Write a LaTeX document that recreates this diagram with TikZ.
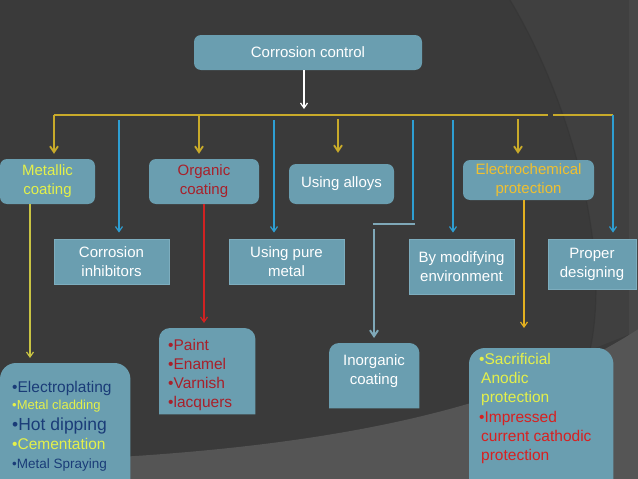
\documentclass[tikz,border=0pt]{standalone}
\usepackage{fontspec}
\setmainfont{Liberation Sans}
\usetikzlibrary{arrows.meta,calc}
\pgfdeclarelayer{back}
\pgfsetlayers{back,main}
\definecolor{bgc}{HTML}{3A3A3A}
\definecolor{bglight}{HTML}{555555}
\definecolor{bgmid}{HTML}{404040}
\definecolor{bgedge}{HTML}{474747}
\definecolor{boxc}{HTML}{6A9EB0}
\definecolor{boxedge}{HTML}{7DADBE}
\definecolor{ygold}{HTML}{C8AA2A}
\definecolor{ylime}{HTML}{C9C443}
\definecolor{yorange}{HTML}{E3B020}
\definecolor{blueline}{HTML}{2E9ED2}
\definecolor{grayblue}{HTML}{7FA8B8}
\definecolor{redline}{HTML}{D02222}
\definecolor{txtyellow}{HTML}{E4F04A}
\definecolor{txtgold}{HTML}{F0C030}
\definecolor{txtred}{HTML}{A8202A}
\definecolor{txtred2}{HTML}{D82020}
\definecolor{navy}{HTML}{1A3C78}
\begin{document}
\begin{tikzpicture}[x=1pt,y=-1pt,
  box/.style={fill=boxc, text=white, font=\fontsize{15}{19}\selectfont, align=center, inner sep=0pt},
  rbox/.style={box, rounded corners=7pt},
  sbox/.style={box, draw=boxedge, line width=0.8pt},
  frame/.style={inner sep=0pt},
  ln/.style={inner sep=0pt, anchor=base west, font=\fontsize{15.5}{19}\selectfont},
  ybar/.style={draw=ygold, line width=2pt},
  yarr/.style={draw=ygold, line width=1.8pt, -{Straight Barb[length=6pt,width=8pt]}},
  barr/.style={draw=blueline, line width=1.2pt, -{Straight Barb[length=5pt,width=7pt]}},
  bline/.style={draw=blueline, line width=1.2pt},
  garr/.style={draw=grayblue, line width=2pt, -{Straight Barb[length=6pt,width=8pt]}},
  gline/.style={draw=grayblue, line width=2pt},
  warr/.style={draw=white, line width=1.2pt, -{Straight Barb[length=5pt,width=7pt]}},
  thinarr/.style={line width=1.2pt, -{Straight Barb[length=5pt,width=7pt]}}
]
\useasboundingbox (0,0) rectangle (638,479);
\clip (0,0) rectangle (638,479);
\begin{pgfonlayer}{back}
\fill[bgc] (0,0) rectangle (638,479);
\fill[bgmid] (510,0) .. controls (570,100) and (612,250) .. (590,350) -- (640,330) -- (640,0) -- cycle;
\fill[bgedge] (629,0) rectangle (640,479);
\draw[black!80, line width=1.2pt, opacity=0.5] (510,0) .. controls (570,100) and (612,250) .. (590,350);
\fill[bglight] (0,462) .. controls (280,455) and (500,420) .. (640,328) -- (640,480) -- (0,480) -- cycle;
\end{pgfonlayer}

% main nodes
\node[rbox, minimum width=228pt, minimum height=35pt] (top) at (308,52.5) {Corrosion control};
\node[rbox, minimum width=95pt, minimum height=45pt, text=txtyellow] (metal) at (47.5,181.5) {Metallic\\coating};
\node[sbox, minimum width=115pt, minimum height=45pt] (inhib) at (111.5,261.5) {Corrosion\\inhibitors};
\node[rbox, minimum width=110pt, minimum height=45pt, text=txtred] (organic) at (204,181.5) {Organic\\coating};
\node[sbox, minimum width=115pt, minimum height=45pt] (pure) at (286.5,261.5) {Using pure\\metal};
\node[rbox, minimum width=105pt, minimum height=40pt] (alloys) at (341.5,184) {Using alloys};
\node[sbox, minimum width=105pt, minimum height=55pt] (envir) at (461.5,266.5) {By modifying\\environment};
\node[rbox, minimum width=131pt, minimum height=40pt, text=txtgold] (electro) at (528.5,180) {Electrochemical\\protection};
\node[sbox, minimum width=88pt, minimum height=50pt] (design) at (592,264) {Proper\\designing};

% top-rounded boxes (frames)
\node[frame, minimum width=130pt, minimum height=126pt, anchor=north west] (mlistbox) at (0,363) {};
\node[frame, minimum width=96pt, minimum height=86pt, anchor=north west] (paintbox) at (159,328) {};
\node[frame, minimum width=90pt, minimum height=65pt, anchor=north west] (inorgbox) at (329,343) {};
\node[frame, minimum width=144pt, minimum height=141pt, anchor=north west] (sacrbox) at (469,348) {};
\begin{pgfonlayer}{back}
\fill[boxc] (mlistbox.south west) [rounded corners=16pt] -- (mlistbox.north west) -- (mlistbox.north east) [sharp corners] -- (mlistbox.south east) -- cycle;
\fill[boxc] (paintbox.south west) [rounded corners=11pt] -- (paintbox.north west) -- (paintbox.north east) [sharp corners] -- (paintbox.south east) -- cycle;
\fill[boxc] (inorgbox.south west) [rounded corners=10pt] -- (inorgbox.north west) -- (inorgbox.north east) [sharp corners] -- (inorgbox.south east) -- cycle;
\fill[boxc] (sacrbox.south west) [rounded corners=16pt] -- (sacrbox.north west) -- (sacrbox.north east) [sharp corners] -- (sacrbox.south east) -- cycle;
\end{pgfonlayer}

% list texts
\node[ln, text=navy] (ml1) at (12,392) {•Electroplating};
\node[ln, text=txtyellow, font=\fontsize{13}{16}\selectfont] (ml2) at (12,409) {•Metal cladding};
\node[ln, text=navy, font=\fontsize{17.5}{20}\selectfont] (ml3) at (12,430) {•Hot dipping};
\node[ln, text=txtyellow] (ml4) at (12,449) {•Cementation};
\node[ln, text=navy, font=\fontsize{13.5}{16}\selectfont] (ml5) at (12,468) {•Metal Spraying};

\node[ln, text=txtred] (pl1) at (168,350) {•Paint};
\node[ln, text=txtred] (pl2) at (168,369) {•Enamel};
\node[ln, text=txtred] (pl3) at (168,388) {•Varnish};
\node[ln, text=txtred] (pl4) at (168,407) {•lacquers};

\node[box, fill=none, align=center] (inorg) at (374,371) {Inorganic\\coating};

\node[ln, text=txtyellow] (sl1) at (479,364) {•Sacrificial};
\node[ln, text=txtyellow] (sl2) at (481,383) {Anodic};
\node[ln, text=txtyellow] (sl3) at (481,402) {protection};
\node[ln, text=txtred2] (sl4) at (479,422) {•Impressed};
\node[ln, text=txtred2] (sl5) at (481,441) {current cathodic};
\node[ln, text=txtred2] (sl6) at (481,460) {protection};

% connectors
\coordinate (topend) at (304,109);
\draw[warr] (top.south -| topend) -- (topend);

\coordinate (barL) at (54,115);
\coordinate (barM) at (548,115);
\coordinate (bar2L) at (553,115);
\coordinate (bar2R) at (613,115);
\draw[ybar] (barL) -- (barM);
\draw[ybar] (bar2L) -- (bar2R);

\coordinate (ya2) at (199,115);
\coordinate (ya3) at (338,119);
\coordinate (ya4) at (518,119);
\draw[yarr, shorten >=5pt] (barL) -- (barL |- metal.north);
\draw[yarr, shorten >=5pt] (ya2) -- (ya2 |- organic.north);
\draw[yarr, shorten >=11pt] (ya3) -- (ya3 |- alloys.north);
\draw[yarr, shorten >=6pt] (ya4) -- (ya4 |- electro.north);

\coordinate (b1) at (119,120);
\coordinate (b2) at (274,120);
\coordinate (b3) at (413,120);
\coordinate (b3e) at (413,220);
\coordinate (b4) at (453,120);
\draw[barr, shorten >=6pt] (b1) -- (b1 |- inhib.north);
\draw[barr, shorten >=6pt] (b2) -- (b2 |- pure.north);
\draw[bline] (b3) -- (b3e);
\draw[barr, shorten >=6pt] (b4) -- (b4 |- envir.north);
\draw[barr, shorten >=6pt] (bar2R) -- (bar2R |- design.north);

\coordinate (g1) at (373,224);
\coordinate (g2) at (415,224);
\coordinate (g3) at (374,229);
\draw[gline] (g1) -- (g2);
\draw[garr, shorten >=5pt] (g3) -- (g3 |- inorgbox.north);

\coordinate (mx) at (30,204);
\draw[thinarr, draw=ylime, shorten >=5pt] (metal.south -| mx) -- (mx |- mlistbox.north);
\draw[thinarr, draw=redline, shorten >=5pt] (organic.south) -- (organic.south |- paintbox.north);
\coordinate (ex) at (524,199);
\draw[thinarr, draw=yorange, shorten >=20pt] (electro.south -| ex) -- (ex |- sacrbox.north);
\end{tikzpicture}
\end{document}
